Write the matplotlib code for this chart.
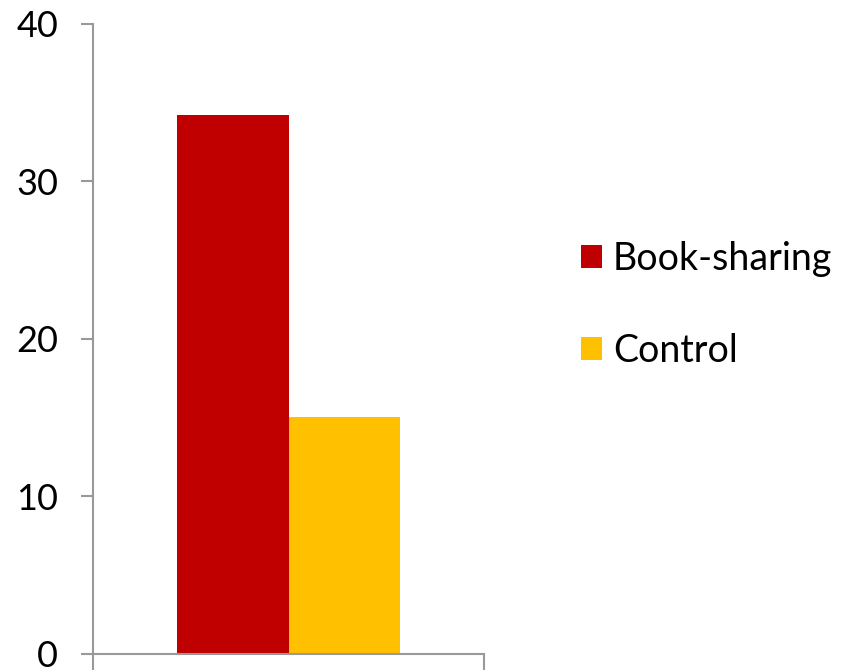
import matplotlib.pyplot as plt
import numpy as np

# group scores
groups = ["Book-sharing", "Control"]
values = [34.2, 15.0]
colors = ["#C00000", "#FFC000"]

plt.rcParams['font.family'] = ['Lato', 'DejaVu Sans']

fig = plt.figure(figsize=(8.44, 6.70), dpi=100)
ax = fig.add_axes([0.1102, 0.0246, 0.4633, 0.9396])

width = 0.286
offsets = np.array([-0.5, 0.5]) * width
handles = []
for off, val, col, name in zip(offsets, values, colors, groups):
    b = ax.bar(off, val, width=width, color=col, label=name)
    handles.append(b)

ax.set_xlim(-0.5, 0.5)
ax.set_ylim(0, 40)
ax.set_yticks([0, 10, 20, 30, 40])
ax.set_xticks([-0.5, 0.5])
ax.set_xticklabels([])

gray = "#999999"
for s in ["top", "right"]:
    ax.spines[s].set_visible(False)
for s in ["left", "bottom"]:
    ax.spines[s].set_color(gray)
    ax.spines[s].set_linewidth(1.5)
ax.tick_params(axis="y", direction="out", length=9, width=1.5, color=gray,
               labelsize=26, pad=16)
ax.tick_params(axis="x", direction="out", length=12, width=1.5, color=gray)

fig.legend(handles=handles, labels=groups, loc="center left",
           bbox_to_anchor=(0.648, 0.545), frameon=False,
           handlelength=0.56, handleheight=0.56, handletextpad=0.3,
           labelspacing=1.5, prop={"size": 27})

fig.savefig("out.png", dpi=100)
